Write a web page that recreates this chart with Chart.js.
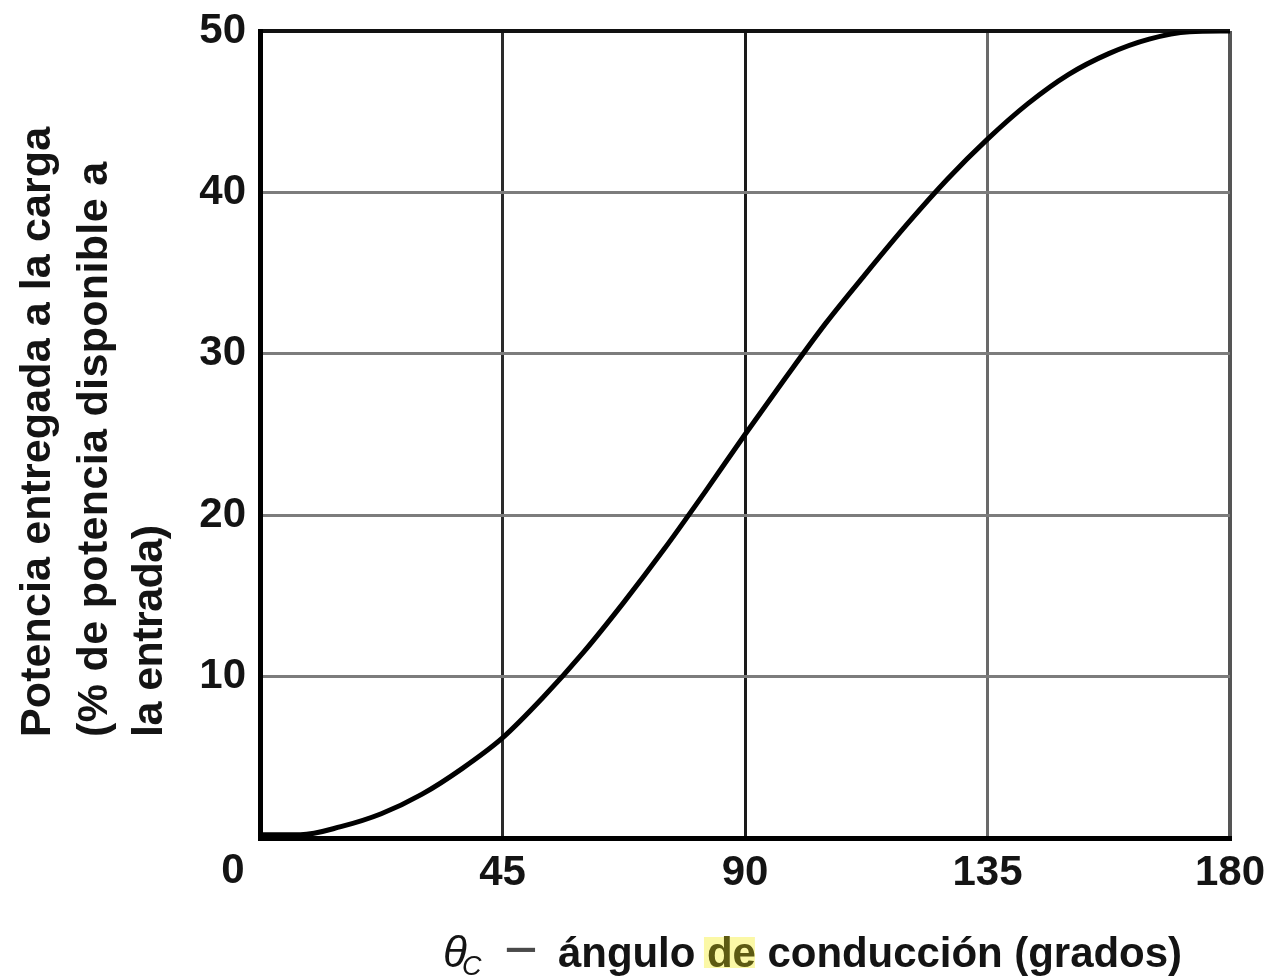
<!DOCTYPE html>
<html>
<head>
<meta charset="utf-8">
<script src="https://cdn.jsdelivr.net/npm/chart.js@4.4.1/dist/chart.umd.min.js"></script>
<style>
  html, body { margin: 0; padding: 0; background: #fff; }
  #wrap { width: 1268px; height: 977px; position: relative; }
</style>
</head>
<body>
<div id="wrap"><canvas id="c" width="1268" height="977"></canvas></div>
<script>
// Data
const angles = [0, 7.5, 15, 22.5, 30, 37.5, 45, 52.5, 60, 67.5, 75, 82.5, 90, 97.5, 105, 112.5, 120, 127.5, 135, 142.5, 150, 157.5, 165, 172.5, 180];
const power  = [0.2, 0.2, 0.7, 1.5, 2.7, 4.3, 6.2, 8.7, 11.5, 14.6, 17.9, 21.4, 25, 28.5, 31.9, 35, 38, 40.8, 43.3, 45.5, 47.3, 48.6, 49.5, 49.95, 50];
const xTicks = [0, 45, 90, 135, 180];
const yTicks = [0, 10, 20, 30, 40, 50];
const yTitleLines = ["Potencia entregada a la carga", "(% de potencia disponible a", "la entrada)"];
const xTitleParts = { symbol: "θ", sub: "C", dash: "−", before: "ángulo ", highlight: "de", after: " conducción (grados)" };

const FONT = '"Liberation Sans", Arial, Helvetica, sans-serif';

const titlesPlugin = {
  id: 'titles',
  afterDraw(chart) {
    const ctx = chart.ctx;
    const xs = chart.scales.x, ys = chart.scales.y;
    ctx.save();
    ctx.fillStyle = '#141414';
    // "0" label at origin (offset left like the reference)
    ctx.font = 'bold 42px ' + FONT;
    ctx.textAlign = 'center';
    ctx.textBaseline = 'middle';
    ctx.fillText(String(xTicks[0]), xs.getPixelForValue(xTicks[0]) - 27, ys.bottom + 33);

    // Y title, rotated, three start-aligned lines
    ctx.font = 'bold 43px ' + FONT;
    ctx.textAlign = 'left';
    ctx.textBaseline = 'alphabetic';
    const baselines = [50, 107, 162];
    const spans = [610, 575, 212];
    yTitleLines.forEach((t, i) => {
      ctx.save();
      ctx.translate(baselines[i], 737);
      ctx.rotate(-Math.PI / 2);
      const nat = ctx.measureText(t).width;
      const ls = (spans[i] - nat) / Math.max(1, t.length - 1);
      ctx.letterSpacing = ls.toFixed(2) + 'px';
      ctx.fillText(t, 0, 0);
      ctx.restore();
    });

    // X title
    const base = 967;
    ctx.textAlign = 'left';
    ctx.font = 'italic 44px ' + FONT;
    ctx.fillText(xTitleParts.symbol, 443, base);
    ctx.font = 'italic 27px ' + FONT;
    ctx.fillText(xTitleParts.sub, 462, base + 8);
    ctx.save();
    ctx.fillStyle = '#4a4a4a';
    ctx.font = '58px ' + FONT;
    ctx.fillText(xTitleParts.dash, 504, base + 2);
    ctx.restore();
    ctx.font = 'bold 42px ' + FONT;
    const start = 558, end = 1182;
    const full = xTitleParts.before + xTitleParts.highlight + xTitleParts.after;
    const nat = ctx.measureText(full).width;
    const ls = (end - start - nat) / (full.length - 1);
    ctx.letterSpacing = ls.toFixed(2) + 'px';
    let x = start;
    ctx.fillText(xTitleParts.before, x, base);
    x += ctx.measureText(xTitleParts.before).width;
    const hw = ctx.measureText(xTitleParts.highlight).width;
    ctx.fillStyle = '#fbf8a6';
    ctx.fillRect(x - 3, base - 30, hw + 2, 31);
    ctx.fillStyle = '#5d5a12';
    ctx.fillText(xTitleParts.highlight, x, base);
    x += hw;
    ctx.fillStyle = '#141414';
    ctx.fillText(xTitleParts.after, x, base);
    ctx.restore();
  }
};

const vColor = { 45: '#2a2a2a', 90: '#1a1a1a', 135: '#6a6a6a', 180: '#555555' };
const noPad = s => { s.paddingTop = 0; s.paddingBottom = 0; s.paddingLeft = 0; s.paddingRight = 0; };

new Chart(document.getElementById('c'), {
  type: 'line',
  data: {
    datasets: [{
      data: angles.map((a, i) => ({ x: a, y: power[i] })),
      borderColor: '#000',
      borderWidth: 5,
      pointRadius: 0,
      fill: false,
      cubicInterpolationMode: 'monotone'
    }]
  },
  options: {
    responsive: false,
    animation: false,
    devicePixelRatio: 1,
    layout: { padding: { top: 31, right: 38, bottom: 0, left: 0 } },
    plugins: { legend: { display: false }, tooltip: { enabled: false } },
    scales: {
      x: {
        type: 'linear', min: 0, max: 180,
        afterBuildTicks: s => { s.ticks = xTicks.map(v => ({ value: v })); },
        afterFit: s => { s.height = 139; noPad(s); },
        ticks: {
          font: { family: FONT, size: 42, weight: 'bold' }, color: '#141414', padding: 10,
          maxRotation: 0, autoSkip: false,
          callback: v => (v === 0 ? '' : String(v))
        },
        grid: {
          drawTicks: false,
          color: c => vColor[c.tick && c.tick.value] || 'rgba(0,0,0,0)',
          lineWidth: c => (c.tick && c.tick.value === 180 ? 4 : 3)
        },
        border: { display: true, color: '#000', width: 5 }
      },
      y: {
        min: 0, max: 50,
        afterBuildTicks: s => { s.ticks = yTicks.map(v => ({ value: v })); },
        afterFit: s => { s.width = 260; noPad(s); },
        ticks: {
          font: { family: FONT, size: 42, weight: 'bold' }, color: '#141414', padding: 14,
          callback: v => (v === 0 ? '' : String(v))
        },
        grid: {
          drawTicks: false,
          color: c => (c.tick && c.tick.value === 50 ? '#111' : '#7c7c7c'),
          lineWidth: c => (c.tick && c.tick.value === 50 ? 4 : 3)
        },
        border: { display: true, color: '#000', width: 5 }
      }
    }
  },
  plugins: [titlesPlugin]
});
</script>
</body>
</html>
